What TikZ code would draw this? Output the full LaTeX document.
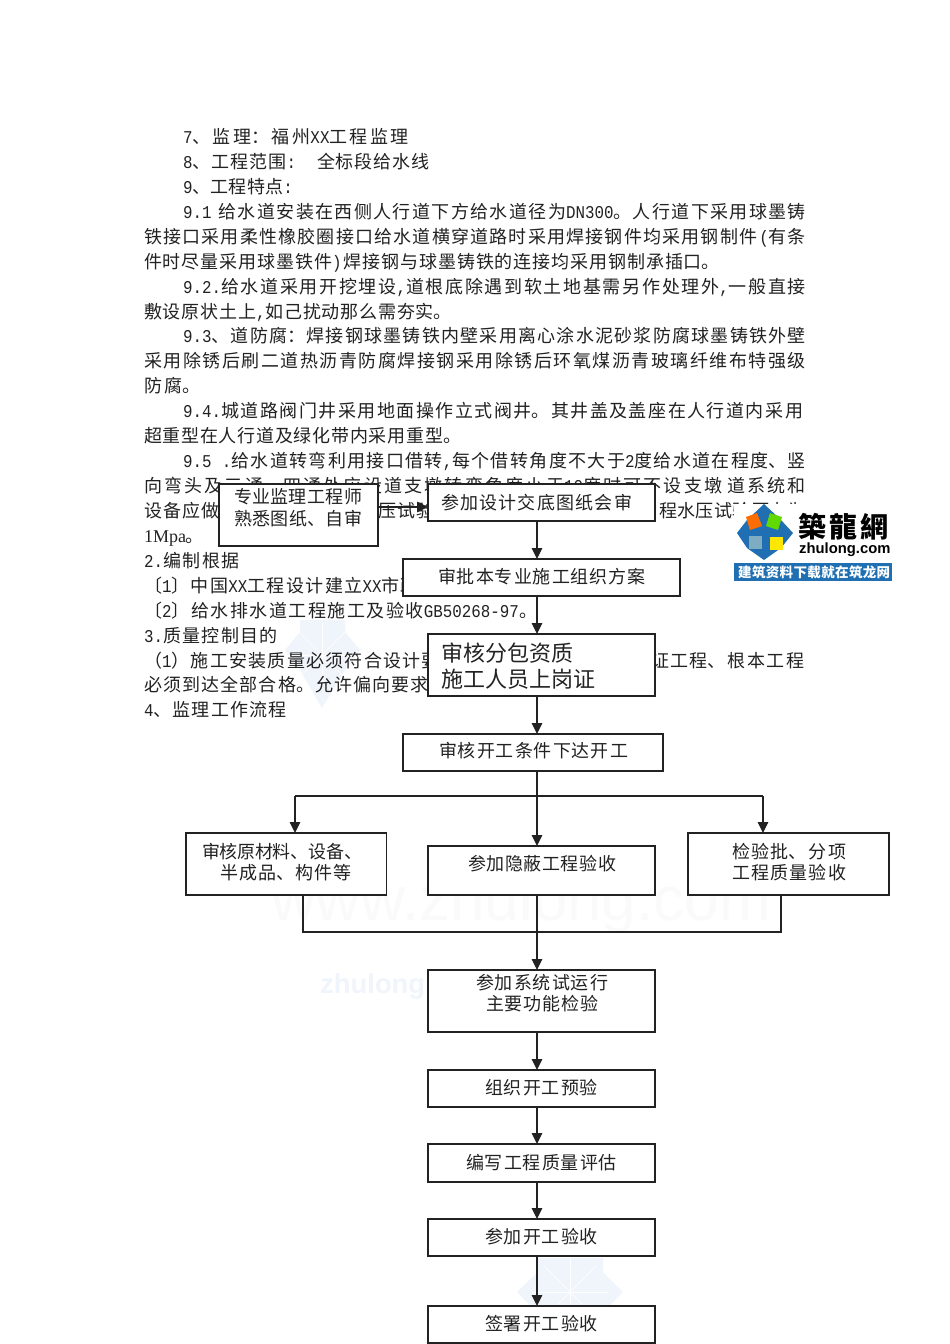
\documentclass[tikz,border=0pt]{standalone}
\usepackage{fontspec}
\usepackage{graphicx}
\usetikzlibrary{arrows.meta,calc}
\setmainfont{Noto Sans CJK SC}
\newfontfamily\la[FakeStretch=0.88]{Liberation Mono}
\newfontfamily\serif{Liberation Serif}
\newfontfamily\lsans{Liberation Sans}
\XeTeXlinebreaklocale "zh"
\XeTeXlinebreakskip=0pt plus 8pt minus 1pt
\definecolor{ink}{HTML}{222222}
\definecolor{wm}{HTML}{F0F5FB}
\definecolor{wmfaint}{HTML}{FAFAFA}
\definecolor{logoblue}{HTML}{1F6FB2}
\newcommand\spr[2]{\parbox[b]{#1pt}{\tolerance=10000 \hbadness=10000 \hfuzz=6pt \parfillskip=0pt\noindent #2}}
\newcommand\bl[5]{\node[txt,anchor=base west] (#1) at (#2,#3) {\spr{#4}{#5}};}
\newcommand\bt[3]{\makebox[0pt][l]{\hspace*{#1pt}\raisebox{#2pt}[0pt][0pt]{#3}}}
\newcommand\two[7]{\vbox{\baselineskip=#1pt\lineskiplimit=-100pt\lineskip=0pt\hbox{\kern#2pt\spr{#3}{#4}}\hbox{\kern#5pt\spr{#6}{#7}}}}
\tikzset{
  txt/.style={inner sep=0pt,outer sep=0pt,text=ink,font=\fontsize{18}{22}\selectfont},
  pbox/.style={draw=ink,line width=1.2pt,fill=white,inner sep=0pt,outer sep=0pt,text=ink,font=\fontsize{18}{22}\selectfont},
  arr/.style={draw=ink,line width=1.1pt,-{Triangle[width=10.5pt,length=11pt]}},
  link/.style={draw=ink,line width=1.1pt},
  wmark/.style={fill=wm,draw=none},
  wmray/.style={draw=white,line width=0.6pt},
}
\begin{document}
\begin{tikzpicture}[x=1pt,y=-1pt]
\useasboundingbox (0,0) rectangle (950,1344);
\fill[white] (0,0) rectangle (950,1344);
% watermarks
\fill[wmark] (300,620)--(345,620)--(345,632)--(360,650)--(345,670)--(322,708)--(300,670)--(285,650)--(300,632)--cycle;
\foreach \a in {0,45,...,315} \draw[wmray] (322,655) -- ++(\a:32);
\fill[wmark] (538,1258)--(603,1258)--(603,1272)--(623,1292)--(603,1312)--(570,1340)--(537,1312)--(517,1292)--(538,1272)--cycle;
\foreach \a in {0,45,...,315} \draw[wmray] (570,1292) -- ++(\a:38);
\node[inner sep=0pt,anchor=base west,text=wm,font=\lsans\bfseries\fontsize{27.4}{30}\selectfont] (wmz) at (320,993) {zhulong};
\node[inner sep=0pt,anchor=base west,text=wmfaint,font=\lsans\fontsize{62}{64}\selectfont] (wmw) at (271,920) {www.zhulong.com};
% body text
\bl{l1}{183}{143.5}{226}{{\la 7}、监理：福州{\la XX}工程监理}
\bl{l2}{183}{168.4}{247}{{\la 8}、工程范围{\la :}\kern21pt 全标段给水线}
\bl{l3}{183}{193.4}{110}{{\la 9}、工程特点{\la :}}
\bl{l4}{183}{218.3}{623}{{\la 9.1}\kern7pt 给水道安装在西侧人行道下方给水道径为{\la DN300}。人行道下采用球墨铸}
\bl{l5}{144}{243.2}{662}{铁接口采用柔性橡胶圈接口给水道横穿道路时采用焊接钢件均采用钢制件{\la\kern2pt(}有条}
\bl{l6}{144}{268.2}{576}{件时尽量采用球墨铁件{\la )\kern2pt}焊接钢与球墨铸铁的连接均采用钢制承插口。}
\bl{l7}{183}{293.1}{623}{{\la 9.2.}给水道采用开挖埋设{\la ,}道根底除遇到软土地基需另作处理外{\la ,}一般直接}
\bl{l8}{144}{318}{308}{敷设原状土上{\la ,}如己扰动那么需夯实。}
\bl{l9}{183}{342.9}{623}{{\la 9.3}、道防腐：焊接钢球墨铸铁内壁采用离心涂水泥砂浆防腐球墨铸铁外壁}
\bl{l10}{144}{367.9}{662}{采用除锈后刷二道热沥青防腐焊接钢采用除锈后环氧煤沥青玻璃纤维布特强级}
\bl{l11}{144}{392.8}{57}{防腐。}
\bl{l12}{183}{417.7}{620}{{\la 9.4.}城道路阀门井采用地面操作立式阀井。其井盖及盖座在人行道内采用}
\bl{l13}{144}{442.7}{317}{超重型在人行道及绿化带内采用重型。}
\bl{l14}{183}{467.6}{623}{{\la 9.5 .}给水道转弯利用接口借转{\la ,}每个借转角度不大于{\la 2}度给水道在程度、竖}
\bl{l15}{144}{492.5}{662}{向弯头及三通、四通处应设道支墩转弯角度小于{\la 10}度时可不设支墩\kern5pt 道系统和}
\bl{l16a}{144}{517.4}{76}{设备应做}
\bl{l16b}{378}{517.4}{57}{压试验}
\bl{l16c}{659}{517.4}{147}{程水压试验压力为}
\node[txt,anchor=base west,font=\serif\fontsize{18}{22}\selectfont] (l17) at (144,542.4) {1Mpa{\rmfamily 。}};
\bl{l18}{144}{567.3}{96}{{\la 2.}编制根据}
\bl{l19}{144}{592.2}{275}{〔{\la 1}〕中国{\la XX}工程设计建立{\la XX}市政}
\bl{l20}{144}{617.2}{393}{〔{\la 2}〕给水排水道工程施工及验收{\la GB50268-97}。}
\bl{l21}{144}{642.1}{134}{{\la 3.}质量控制目的}
\bl{l22a}{144}{667}{296}{（{\la 1}）施工安装质量必须符合设计要}
\bl{l22b}{651}{667}{153}{证工程、根本工程}
\bl{l23}{144}{691.9}{285}{必须到达全部合格。允许偏向要求}
\bl{l24}{144}{716.9}{143}{{\la 4}、监理工作流程}
% boxes
\node[pbox,minimum width=159pt,minimum height=62pt] (a) at (298.5,515) {\bt{-64.5}{-10.5}{\two{22}{0}{128}{专业监理工程师}{0}{128}{熟悉图纸、自审}}};
\node[pbox,minimum width=227pt,minimum height=37pt] (b) at (541.5,502.5) {\bt{-100.5}{-7}{\spr{191}{参加设计交底图纸会审}}};
\node[pbox,minimum width=277pt,minimum height=37pt] (c) at (541.5,577.5) {\bt{-103.5}{-6}{\spr{208}{审批本专业施工组织方案}}};
\node[pbox,minimum width=227pt,minimum height=62pt,font=\fontsize{22}{26}\selectfont] (d) at (541.5,665) {\bt{-100.5}{-22.5}{\two{26}{0}{132}{审核分包资质}{0}{155}{施工人员上岗证}}};
\node[pbox,minimum width=260pt,minimum height=37pt] (e) at (533,752.5) {\bt{-94}{-5}{\spr{189}{审核开工条件下达开工}}};
\node[pbox,minimum width=200.5pt,minimum height=62pt] (f) at (286.25,864) {\bt{-84.25}{-15.5}{\two{21}{0}{160}{审核原材料、设备、}{18}{132}{半成品、构件等}}};
\node[pbox,minimum width=227pt,minimum height=49pt] (g) at (541.5,870.5) {\bt{-73.5}{0}{\spr{148}{参加隐蔽工程验收}}};
\node[pbox,minimum width=201pt,minimum height=62pt] (h) at (788.5,864) {\bt{-56.5}{-15.5}{\two{21}{0}{114}{检验批、分项}{0}{114}{工程质量验收}}};
\node[pbox,minimum width=227pt,minimum height=62pt] (i) at (541.5,1001) {\bt{-65.5}{-9.5}{\two{21}{0}{132}{参加系统试运行}{10}{112}{主要功能检验}}};
\node[pbox,minimum width=227pt,minimum height=37pt] (j) at (541.5,1088.5) {\bt{-56.5}{-6}{\spr{113}{组织开工预验}}};
\node[pbox,minimum width=227pt,minimum height=38pt] (k) at (541.5,1163) {\bt{-75.5}{-6.5}{\spr{151}{编写工程质量评估}}};
\node[pbox,minimum width=227pt,minimum height=37pt] (l) at (541.5,1237.5) {\bt{-56.5}{-6}{\spr{113}{参加开工验收}}};
\node[pbox,minimum width=227pt,minimum height=37pt] (m) at (541.5,1324.5) {\bt{-56.5}{-6}{\spr{113}{签署开工验收}}};
% connectors
\coordinate (trunk) at (537,0);
\coordinate (ab) at (400,507);
\coordinate (split) at (537,796);
\coordinate (fin) at (295,0);
\coordinate (hin) at (763,0);
\coordinate (fout) at (303,0);
\coordinate (hout) at (781,0);
\coordinate (merge) at (537,932);
\draw[arr] (ab -| a.east) -- (ab -| b.west);
\draw[arr] (trunk |- b.south) -- (trunk |- c.north);
\draw[arr] (trunk |- c.south) -- (trunk |- d.north);
\draw[arr] (trunk |- d.south) -- (trunk |- e.north);
\draw[arr] (trunk |- e.south) -- (trunk |- g.north);
\draw[link] (fin |- split) -- (hin |- split);
\draw[arr] (fin |- split) -- (fin |- f.north);
\draw[arr] (hin |- split) -- (hin |- h.north);
\draw[link] (fout |- f.south) -- (fout |- merge) -- (hout |- merge) -- (hout |- h.south);
\draw[arr] (trunk |- g.south) -- (trunk |- i.north);
\draw[arr] (trunk |- i.south) -- (trunk |- j.north);
\draw[arr] (trunk |- j.south) -- (trunk |- k.north);
\draw[arr] (trunk |- k.south) -- (trunk |- l.north);
\draw[arr] (trunk |- l.south) -- (trunk |- m.north);
% logo
\fill[white] (734,504) rectangle (892,563);
\fill[logoblue] (734,563) rectangle (892,581);
\fill[logoblue] (764,504)--(781,520)--(793,533)--(781,548)--(764,560)--(747,548)--(737,533)--(747,520)--cycle;
\fill[orange!85!red] (746,517)--(757,513)--(762,526)--(750,530)--cycle;
\fill[green!55!yellow!85!black] (770,513)--(782,517)--(778,530)--(766,526)--cycle;
\fill[blue!30!cyan!35!gray!75!white] (749,536)--(762,536)--(762,549)--(749,549)--cycle;
\fill[yellow!90!orange] (770,537)--(783,537)--(783,550)--(770,550)--cycle;
\node[inner sep=0pt,anchor=base west,text=black] (logotitle) at (798,537) {\spr{90}{\fontsize{28}{30}\selectfont\bfseries 築龍網}};
\node[inner sep=0pt,anchor=base west,text=black,font=\lsans\bfseries\fontsize{14.8}{16}\selectfont] (logourl) at (799,553) {zhulong.com};
\node[inner sep=0pt,anchor=base west,text=white] (logobar) at (738,577) {\spr{152}{\fontsize{13.5}{15}\selectfont\bfseries 建筑资料下载就在筑龙网}};
\end{tikzpicture}
\end{document}
